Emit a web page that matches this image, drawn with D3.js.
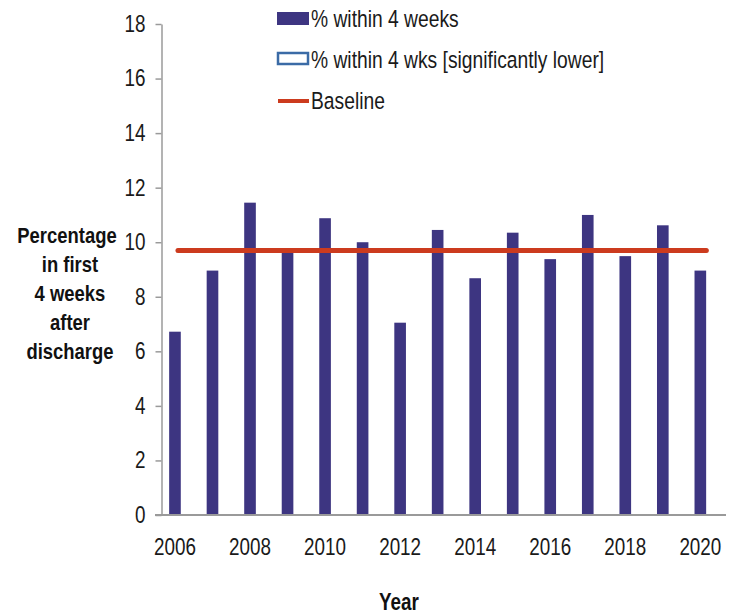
<!DOCTYPE html>
<html>
<head>
<meta charset="utf-8">
<script src="https://cdn.jsdelivr.net/npm/d3@7"></script>
<style>
html,body{margin:0;padding:0;background:#fff;}
svg{display:block;}
text{font-family:"Liberation Sans",Arial,sans-serif;}
</style>
</head>
<body>
<svg id="chart" width="737" height="614"></svg>
<script>
const years = [2006,2007,2008,2009,2010,2011,2012,2013,2014,2015,2016,2017,2018,2019,2020];
const pctWithin4Weeks = [6.72,8.96,11.45,9.65,10.88,10.0,7.05,10.45,8.68,10.35,9.38,11.0,9.49,10.62,8.96];
const baselineValue = [9.7];
const yTicks = [0,2,4,6,8,10,12,14,16,18];
const xTickLabels = [2006,2008,2010,2012,2014,2016,2018,2020];
const legendLabels = ["% within 4 weeks","% within 4 wks [significantly lower]","Baseline"];
const yTitleLines = ["Percentage","in first","4 weeks","after","discharge"];
const xTitle = "Year";

const svg = d3.select("#chart");
const barColor = "#3d3581";
const lineColor = "#cc3b1e";
const axisColor = "#9a9a9a";
const NARROW = 0.82;

// condense glyphs horizontally (narrow typeface look) via a transform
function narrow(sel) {
  sel.each(function() {
    const t = d3.select(this);
    const x0 = +t.attr("x") || 0;
    t.attr("x", x0 / NARROW).attr("transform", `scale(${NARROW},1)`);
  });
}

const y = d3.scaleLinear().domain([0,18]).range([515,24]);
const x = d3.scaleBand().domain(years).range([156.2,719.1]).paddingInner(0.69).paddingOuter(0.345);

// bars
svg.append("g").selectAll("rect").data(years).join("rect")
  .attr("x", d => x(d))
  .attr("width", x.bandwidth())
  .attr("y", (d,i) => y(pctWithin4Weeks[i]))
  .attr("height", (d,i) => y(0) - y(pctWithin4Weeks[i]))
  .attr("fill", barColor);

// baseline
svg.append("line")
  .attr("x1", x(years[0]) + x.bandwidth()/2 + 3)
  .attr("x2", x(years[years.length-1]) + x.bandwidth()/2 + 6)
  .attr("y1", y(baselineValue[0])).attr("y2", y(baselineValue[0]))
  .attr("stroke", lineColor).attr("stroke-width", 5).attr("stroke-linecap","round");

// y axis
const yAxis = d3.axisLeft(y).tickValues(yTicks).tickSize(6).tickPadding(10).tickSizeOuter(0);
const gy = svg.append("g").attr("transform","translate(161.5,0)").call(yAxis);
gy.select(".domain").attr("stroke", axisColor).attr("stroke-width",1.5);
gy.selectAll(".tick line").attr("stroke", axisColor).attr("stroke-width",1.5);
gy.selectAll(".tick text").attr("font-size",23).attr("fill","#1a1a1a")
  .attr("font-family",'"Liberation Sans",Arial,sans-serif').call(narrow);

// x axis line
svg.append("line").attr("x1",155).attr("x2",726).attr("y1",y(0)).attr("y2",y(0))
  .attr("stroke", axisColor).attr("stroke-width",2);

// x tick labels
const xAxis = d3.axisBottom(x).tickValues(xTickLabels).tickSize(0).tickPadding(24);
const gx = svg.append("g").attr("transform",`translate(0,${y(0)})`).call(xAxis);
gx.select(".domain").remove();
gx.selectAll(".tick text").attr("font-size",23).attr("fill","#1a1a1a")
  .attr("font-family",'"Liberation Sans",Arial,sans-serif').call(narrow);

// x title
svg.append("text").attr("x",399).attr("y",610).attr("text-anchor","middle")
  .attr("font-size",23).attr("font-weight","bold").attr("fill","#111").text(xTitle).call(narrow);

// y title
yTitleLines.forEach((t,i) => {
  svg.append("text").attr("text-anchor","middle").attr("font-size",22.5)
    .attr("font-weight","bold").attr("fill","#111")
    .attr("x", i === 0 ? 67 : 70).attr("y",243 + i*29).text(t).call(narrow);
});

// legend
const lg = svg.append("g");
lg.append("rect").attr("x",277).attr("y",12).attr("width",32).attr("height",13).attr("fill",barColor);
lg.append("rect").attr("x",278).attr("y",53).attr("width",30).attr("height",11)
  .attr("fill","#fff").attr("stroke","#3b6ba6").attr("stroke-width",2.5);
lg.append("line").attr("x1",278).attr("x2",309).attr("y1",101).attr("y2",101)
  .attr("stroke",lineColor).attr("stroke-width",4);
legendLabels.forEach((t,i) => {
  lg.append("text").attr("x",311).attr("y",[27,68,109][i]).attr("font-size",23.5)
    .attr("fill","#1a1a1a").text(t).call(narrow);
});
</script>
</body>
</html>
